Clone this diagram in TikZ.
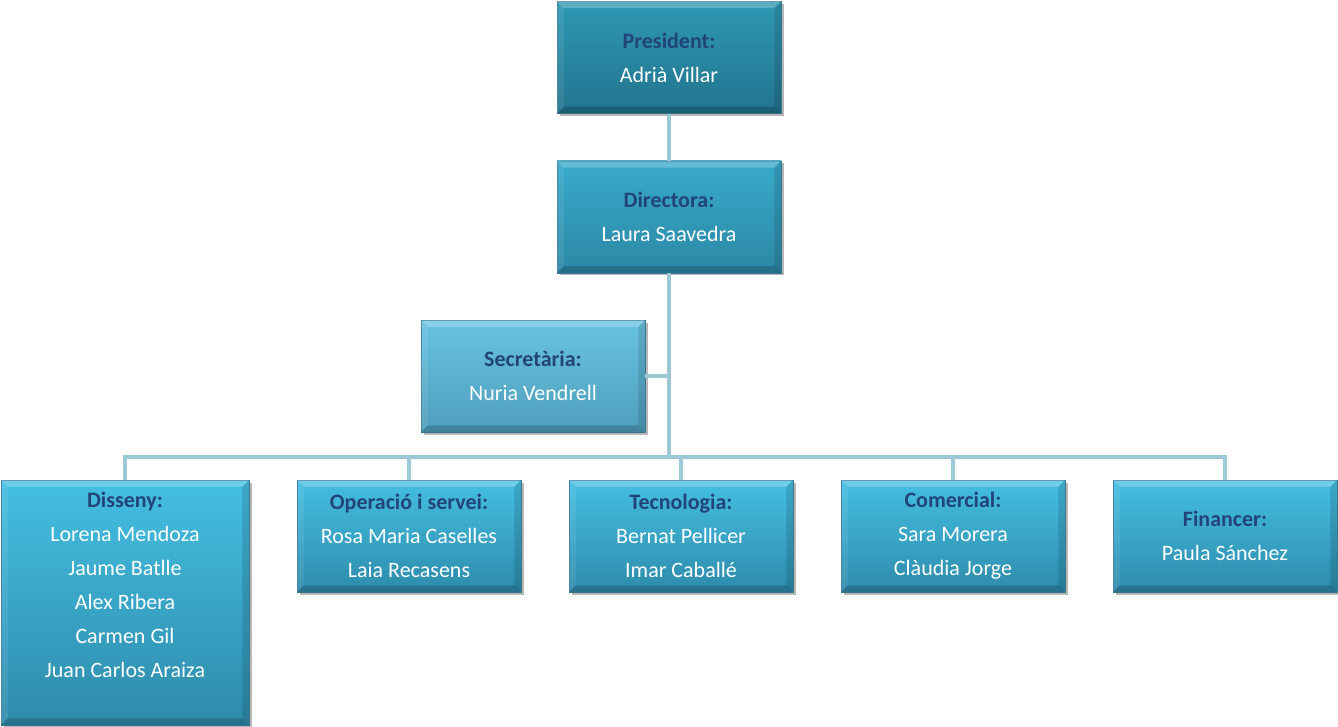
\documentclass[tikz,border=0pt]{standalone}
\usepackage{fontspec}
\setmainfont{Carlito}
\usetikzlibrary{shadows,calc}
\definecolor{conn}{RGB}{157,200,216}
\definecolor{ttl}{RGB}{34,68,120}
\definecolor{pT}{RGB}{46,152,180}\definecolor{pB}{RGB}{34,116,142}
\definecolor{dT}{RGB}{56,170,203}\definecolor{dB}{RGB}{44,136,165}
\definecolor{sT}{RGB}{104,196,226}\definecolor{sB}{RGB}{78,158,188}
\definecolor{bT}{RGB}{68,191,226}\definecolor{bB}{RGB}{46,139,171}
\definecolor{edge}{RGB}{60,125,150}
\tikzset{
  box/.style={rectangle, minimum width=224pt, minimum height=112pt, inner sep=0pt, draw=edge, line width=0.5pt,
    drop shadow={shadow xshift=2.5pt, shadow yshift=-2.5pt, opacity=0.4, fill=black!70}},
  conn/.style={draw=conn, line width=4pt},
  txt/.style={align=center, font=\fontsize{22}{34}\selectfont, text=white, inner sep=0pt},
}
\newcommand\ttl[1]{{\bfseries\color{ttl}#1}}
\newcommand\bevel[1]{%
  \fill[white,opacity=0.22] (#1.north west) -- (#1.north east) -- ([shift={(-7pt,-7pt)}]#1.north east) -- ([shift={(7pt,-7pt)}]#1.north west) -- cycle;
  \fill[white,opacity=0.08] (#1.north west) -- (#1.south west) -- ([shift={(7pt,7pt)}]#1.south west) -- ([shift={(7pt,-7pt)}]#1.north west) -- cycle;
  \fill[black,opacity=0.12] (#1.north east) -- (#1.south east) -- ([shift={(-7pt,7pt)}]#1.south east) -- ([shift={(-7pt,-7pt)}]#1.north east) -- cycle;
  \fill[black,opacity=0.18] (#1.south west) -- (#1.south east) -- ([shift={(-7pt,7pt)}]#1.south east) -- ([shift={(7pt,7pt)}]#1.south west) -- cycle;
}
\begin{document}
\begin{tikzpicture}[x=1pt,y=-1pt]
\useasboundingbox (0,0) rectangle (1338,727);
% boxes
\node[box, top color=pT, bottom color=pB] (pres) at (669,57.5) {};
\node[box, top color=dT, bottom color=dB] (dir) at (669,217) {};
\node[box, top color=sT, bottom color=sB] (sec) at (533,376) {};
\node[box, top color=bT, bottom color=bB, minimum width=248pt, minimum height=245pt] (dis) at (125,602.5) {};
\node[box, top color=bT, bottom color=bB] (ops) at (409,536) {};
\node[box, top color=bT, bottom color=bB] (tec) at (681,536) {};
\node[box, top color=bT, bottom color=bB] (com) at (953,536) {};
\node[box, top color=bT, bottom color=bB] (fin) at (1225,536) {};
\bevel{pres}\bevel{dir}\bevel{sec}\bevel{dis}\bevel{ops}\bevel{tec}\bevel{com}\bevel{fin}
% connectors
\coordinate (bus) at (669,457);
\draw[conn] (pres.south) -- (dir.north);
\draw[conn] (dir.south) -- (bus);
\draw[conn] (sec.east) -- (sec.east -| bus);
\draw[conn] (bus) -| (dis.north);
\draw[conn] (bus) -| (ops.north);
\draw[conn] (bus) -| (tec.north);
\draw[conn] (bus) -| (com.north);
\draw[conn] (bus) -| (fin.north);
% texts
\node[txt] (tpres) at (pres.center) {\ttl{President:}\\Adrià Villar};
\node[txt] (tdir) at (dir.center) {\ttl{Directora:}\\Laura Saavedra};
\node[txt] (tsec) at (sec.center) {\ttl{Secretària:}\\Nuria Vendrell};
\node[txt] (tdis) at ([yshift=17.5pt]dis.center) {\ttl{Disseny:}\\Lorena Mendoza\\Jaume Batlle\\Alex Ribera\\Carmen Gil\\Juan Carlos Araiza};
\node[txt] (tops) at (ops.center) {\ttl{Operació i servei:}\\Rosa Maria Caselles\\Laia Recasens};
\node[txt] (ttec) at (tec.center) {\ttl{Tecnologia:}\\Bernat Pellicer\\Imar Caballé};
\node[txt] (tcom) at (com.center) {\ttl{Comercial:}\\Sara Morera\\Clàudia Jorge};
\node[txt] (tfin) at (fin.center) {\ttl{Financer:}\\Paula Sánchez};
\end{tikzpicture}
\end{document}
